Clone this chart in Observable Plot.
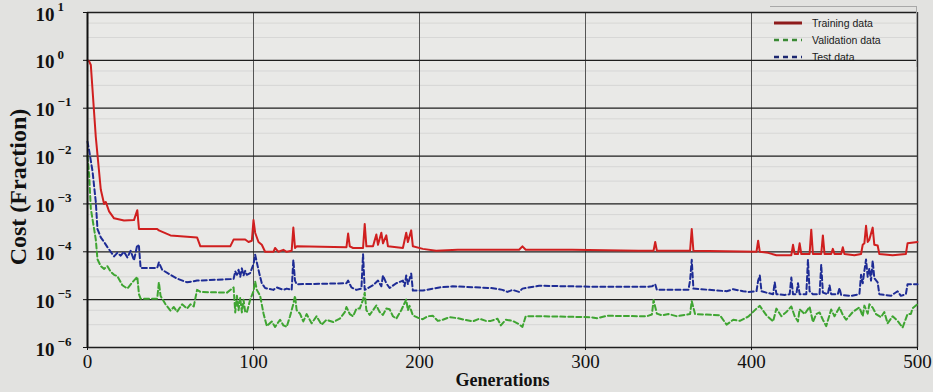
<!DOCTYPE html>
<html><head><meta charset="utf-8">
<script src="https://cdn.jsdelivr.net/npm/d3@7"></script>
<script src="https://cdn.jsdelivr.net/npm/@observablehq/plot@0.6"></script>
<style>
body{margin:0;background:#e2e2e0;}
#wrap{position:relative;width:933px;height:392px;overflow:hidden;}
#legend{position:absolute;left:770px;top:6px;width:146px;height:60px;border-right:1px solid #a8a8a8;border-top:1px solid #a8a8a8;font-family:"Liberation Sans",Arial,sans-serif;font-size:10.5px;color:#1a1a1a;}
#legend .row{position:absolute;left:4px;height:14px;display:flex;align-items:center;}
#legend svg{margin-right:10px;}
</style></head><body><div id="wrap"><div id="legend"></div></div>
<script>
// ---- data: [generation, cost] ----
const training = [
[0,1.0],[1,0.95],[2,0.8],[5,0.025],[8,2e-3],[10,1e-3],[11,1.1e-3],[13,7e-4],[16,5e-4],[22,4.5e-4],[28,4.6e-4],[30,7.4e-4],[31,3e-4],[42,3e-4],[43,2.8e-4],[50,2.2e-4],[66,2e-4],[68,1.3e-4],[86,1.3e-4],[88,1.8e-4],[95,1.8e-4],[97,1.6e-4],[99,1.7e-4],[100,4.6e-4],[101,2.5e-4],[103,1.6e-4],[105,1.4e-4],[107,1.0e-4],[112,1.0e-4],[113,1.2e-4],[115,1.0e-4],[118,1.1e-4],[120,1.0e-4],[123,1.05e-4],[124,3.2e-4],[125,1.2e-4],[126,1.3e-4],[156,1.25e-4],[157,2.4e-4],[158,1.3e-4],[160,1.2e-4],[166,1.2e-4],[167,3.8e-4],[168,1.3e-4],[172,1.3e-4],[174,2.3e-4],[175,1.4e-4],[177,2.5e-4],[178,1.5e-4],[180,2.2e-4],[181,1.3e-4],[190,1.2e-4],[192,2.5e-4],[193,1.6e-4],[195,2.8e-4],[196,1.3e-4],[202,1.15e-4],[210,1.05e-4],[223,1.1e-4],[260,1.1e-4],[262,1.3e-4],[264,1.1e-4],[292,1.1e-4],[332,1.05e-4],[341,1.05e-4],[342,1.6e-4],[343,1.05e-4],[363,1.05e-4],[364,3e-4],[365,1.05e-4],[403,1.0e-4],[404,1.7e-4],[405,1.0e-4],[410,9.5e-5],[415,8.5e-5],[424,8.5e-5],[425,1.4e-4],[426,9e-5],[428,9e-5],[429,1.5e-4],[430,9e-5],[435,9e-5],[436,2.9e-4],[437,9e-5],[442,9e-5],[443,2.2e-4],[444,9e-5],[448,9e-5],[449,1.15e-4],[450,9e-5],[454,9e-5],[455,1.25e-4],[456,9e-5],[462,8.5e-5],[466,9e-5],[467,1.4e-4],[468,1.5e-4],[469,3.5e-4],[470,1.6e-4],[471,1.8e-4],[473,3.2e-4],[474,1.4e-4],[476,1.35e-4],[477,9e-5],[485,8.5e-5],[493,9e-5],[494,1.5e-4],[500,1.6e-4]
];
const test = [
[0,0.02],[1,0.013],[3,4.9e-3],[5,1.1e-3],[6,3e-4],[8,2e-4],[10,1.6e-4],[12,1.25e-4],[14,1e-4],[16,8e-5],[18,9.5e-5],[20,8.3e-5],[22,1e-4],[24,7.6e-5],[26,1.05e-4],[28,6.6e-5],[30,1.4e-4],[31,1.3e-4],[32,4.6e-5],[42,4.6e-5],[43,6e-5],[45,4.2e-5],[50,3.3e-5],[54,2.75e-5],[60,2.3e-5],[66,2.5e-5],[88,2.7e-5],[89,3.9e-5],[90,3.3e-5],[91,4.2e-5],[92,3e-5],[93,4.5e-5],[94,3.2e-5],[95,4e-5],[96,3.3e-5],[98,3.6e-5],[100,5.5e-5],[101,8.7e-5],[102,6e-5],[103,4.2e-5],[104,3e-5],[105,2.2e-5],[107,1.75e-5],[112,1.6e-5],[114,1.8e-5],[118,1.6e-5],[120,1.7e-5],[123,1.6e-5],[124,6.8e-5],[125,2.5e-5],[126,2.1e-5],[156,2.2e-5],[157,2.5e-5],[159,1.8e-5],[162,1.6e-5],[165,1.7e-5],[166,8.9e-5],[167,1.6e-5],[172,2e-5],[175,2.5e-5],[177,1.9e-5],[178,3.2e-5],[180,2.2e-5],[182,1.75e-5],[186,2.2e-5],[190,2.5e-5],[191,1.9e-5],[192,3.2e-5],[193,2.1e-5],[195,3.5e-5],[196,1.55e-5],[202,1.55e-5],[212,1.8e-5],[220,1.9e-5],[243,1.75e-5],[250,1.6e-5],[253,1.45e-5],[256,1.6e-5],[260,1.45e-5],[262,1.7e-5],[272,1.95e-5],[309,1.85e-5],[337,1.85e-5],[340,1.9e-5],[342,2.1e-5],[343,1.6e-5],[362,1.6e-5],[363,2.5e-5],[364,6.8e-5],[365,1.7e-5],[385,1.5e-5],[389,1.65e-5],[395,1.5e-5],[398,1.45e-5],[403,1.5e-5],[404,2.5e-5],[405,3.2e-5],[406,1.5e-5],[409,1.4e-5],[413,1.3e-5],[414,2.3e-5],[415,1.3e-5],[420,1.25e-5],[423,1.3e-5],[424,2.9e-5],[425,1.3e-5],[427,1.3e-5],[428,2.2e-5],[429,1.3e-5],[433,1.3e-5],[434,6.8e-5],[435,1.5e-5],[437,1.3e-5],[441,1.3e-5],[442,5.4e-5],[443,1.4e-5],[446,1.3e-5],[447,2e-5],[448,1.3e-5],[452,1.3e-5],[453,1.75e-5],[454,1.25e-5],[460,1.2e-5],[465,1.3e-5],[466,3.3e-5],[467,2.2e-5],[468,4e-5],[469,6.9e-5],[470,3e-5],[471,4.5e-5],[472,2.5e-5],[473,6.5e-5],[474,2.8e-5],[476,2.3e-5],[477,1.3e-5],[484,1.2e-5],[488,1.5e-5],[490,1.2e-5],[493,1.3e-5],[494,2.1e-5],[500,2.1e-5]
];
const validation = [
[0,1e-2],[1,4e-3],[2,8e-4],[5,1.8e-4],[6,7e-5],[8,5e-5],[10,4.4e-5],[12,5e-5],[14,3.8e-5],[16,3.3e-5],[18,3.1e-5],[21,2e-5],[24,1.7e-5],[27,2.3e-5],[30,3e-5],[31,1.3e-5],[32,1.05e-5],[42,1.05e-5],[43,2.3e-5],[44,1.2e-5],[47,8e-6],[50,5.9e-6],[52,7e-6],[54,5.6e-6],[57,8e-6],[60,6.5e-6],[62,8e-6],[64,7.2e-6],[66,1.6e-5],[68,1.45e-5],[84,1.4e-5],[88,1.8e-5],[89,5.4e-6],[90,1.2e-5],[91,6e-6],[92,1.1e-5],[93,5.4e-6],[94,1e-5],[95,5.5e-6],[96,5.4e-6],[98,1e-5],[100,1.5e-5],[101,2.4e-5],[102,1.6e-5],[104,1.2e-5],[106,5.2e-6],[108,2.8e-6],[111,3.5e-6],[113,2.7e-6],[116,3.8e-6],[118,2.9e-6],[120,2.7e-6],[122,4.5e-6],[124,8.1e-6],[125,1.2e-5],[126,6e-6],[128,5.1e-6],[130,3.5e-6],[132,5e-6],[135,3.2e-6],[138,4.5e-6],[141,3e-6],[144,3.8e-6],[148,3.4e-6],[152,4e-6],[155,5.5e-6],[156,7e-6],[158,5e-6],[160,4.5e-6],[162,6.5e-6],[164,6.5e-6],[166,1e-5],[167,1.4e-5],[168,6e-6],[170,4.8e-6],[172,6e-6],[174,7.6e-6],[176,5.5e-6],[178,4.8e-6],[180,6.5e-6],[182,6.3e-6],[184,4.5e-6],[186,4e-6],[189,6e-6],[192,1e-5],[193,6e-6],[194,7.4e-6],[196,4.7e-6],[199,4.2e-6],[202,3.9e-6],[205,4.5e-6],[208,4.6e-6],[211,3.6e-6],[214,3.8e-6],[218,4.3e-6],[223,4.1e-6],[227,3.8e-6],[232,3.5e-6],[236,4e-6],[240,3.6e-6],[243,3.6e-6],[247,4e-6],[249,2.9e-6],[252,3.8e-6],[256,3.6e-6],[259,3.2e-6],[262,2.7e-6],[264,4.5e-6],[273,4.5e-6],[303,4.3e-6],[307,4.1e-6],[313,4.6e-6],[333,4.5e-6],[337,4.5e-6],[340,4.9e-6],[341,9.8e-6],[343,5.1e-6],[346,4.7e-6],[350,5e-6],[355,4.5e-6],[363,5e-6],[364,9.3e-6],[366,5e-6],[381,4.7e-6],[385,3e-6],[389,3.8e-6],[393,3.6e-6],[398,4.4e-6],[403,6.5e-6],[405,7.4e-6],[409,4.7e-6],[413,3.5e-6],[415,6.5e-6],[418,4.5e-6],[421,5.5e-6],[424,7.2e-6],[426,4.5e-6],[428,3.5e-6],[429,6.3e-6],[432,5e-6],[435,7.1e-6],[437,3.4e-6],[439,5e-6],[441,5.4e-6],[443,3.8e-6],[445,2.8e-6],[448,6.2e-6],[450,4.5e-6],[453,6.9e-6],[455,4.8e-6],[457,3.8e-6],[461,5.5e-6],[465,6.9e-6],[467,4.5e-6],[468,7.5e-6],[470,5.1e-6],[471,8e-6],[473,6.8e-6],[475,5e-6],[478,4.3e-6],[480,5.5e-6],[482,3.2e-6],[485,4.5e-6],[488,3.6e-6],[491,2.6e-6],[494,5e-6],[496,5e-6],[497,6.6e-6],[500,8e-6]
];
const xTicks = [0,100,200,300,400,500];
const yTicks = [1e-6,1e-5,1e-4,1e-3,1e-2,1e-1,1,10];
const yTickBase = "10";
const yTickExponents = ["\u22126","\u22125","\u22124","\u22123","\u22122","\u22121","0","1"];
const minorTicks = [3e-6,6e-6,3e-5,6e-5,3e-4,6e-4,3e-3,6e-3,3e-2,6e-2,0.3,0.6,3,6];
const seriesNames = ["Training data","Validation data","Test data"];
const seriesColors = ["#d01f1f","#3fa532","#1e2c95"];

const expFor = d => yTickExponents[Math.round(Math.log10(d)) + 6];
const serif = "'Liberation Serif','DejaVu Serif',serif";
const plot = Plot.plot({
  width:933, height:392,
  marginLeft:87, marginRight:16, marginTop:12, marginBottom:45,
  style:{background:"transparent", fontFamily:serif, color:"#111"},
  x:{domain:[0,500], label:null},
  y:{type:"log", domain:[1e-6,10], label:null},
  marks:[
    Plot.frame({fill:"#e9e9e7", stroke:null}),
    Plot.ruleY(minorTicks,{stroke:"#d2d2d0", strokeWidth:0.8}),
    Plot.ruleX([100,200,300,400],{stroke:"#555", strokeWidth:1}),
    Plot.ruleY(yTicks,{stroke:"#1e1e1e", strokeWidth:1.3}),
    Plot.ruleX([500],{stroke:"#333", strokeWidth:1.4}),
    Plot.line(validation,{x:d=>d[0], y:d=>d[1], stroke:seriesColors[1], strokeWidth:2, strokeDasharray:"5,3"}),
    Plot.line(test,{x:d=>d[0], y:d=>d[1], stroke:seriesColors[2], strokeWidth:2, strokeDasharray:"5,3"}),
    Plot.line(training,{x:d=>d[0], y:d=>d[1], stroke:seriesColors[0], strokeWidth:2}),
    Plot.ruleX([0],{stroke:"#111", strokeWidth:2}),
    Plot.axisY(yTicks, {tickFormat:()=>"", tickSize:4, label:null}),
    Plot.text(yTicks, {y:d=>d, frameAnchor:"left", text:()=>yTickBase, dx:-52, dy:2, textAnchor:"start", fontSize:19, fontWeight:"bold", fill:"#111"}),
    Plot.text(yTicks, {y:d=>d, frameAnchor:"left", text:expFor, dx:-30, dy:-6, textAnchor:"start", fontSize:13, fontWeight:"bold", fill:"#111"}),
    Plot.axisX(xTicks, {tickFormat:d=>String(d), fontSize:19, tickSize:3, tickPadding:4, label:null}),
    Plot.text(["Cost (Fraction)"],{frameAnchor:"left", textAnchor:"middle", dx:-69, dy:7, rotate:-90, fontSize:24, fontWeight:"bold", fill:"#111"}),
    Plot.text(["Generations"],{frameAnchor:"bottom", dy:38, fontSize:18, fontWeight:"bold", fill:"#111"})
  ]
});
document.getElementById("wrap").prepend(plot);

// legend
const lg = document.getElementById("legend");
const dashes = [null,"5,4","5,4"];
const legendColors = ["#8e1b1b","#3a8a34","#1c2870"];
seriesNames.forEach((name,i)=>{
  const row = document.createElement("div");
  row.className = "row";
  row.style.top = (9 + i*17) + "px";
  row.innerHTML = `<svg width="28" height="6"><line x1="0" y1="3" x2="28" y2="3" stroke="${legendColors[i]}" stroke-width="${i===0?3:2.5}" ${dashes[i]?`stroke-dasharray="${dashes[i]}"`:""}/></svg><span>${name}</span>`;
  lg.appendChild(row);
});
</script>
</body></html>
